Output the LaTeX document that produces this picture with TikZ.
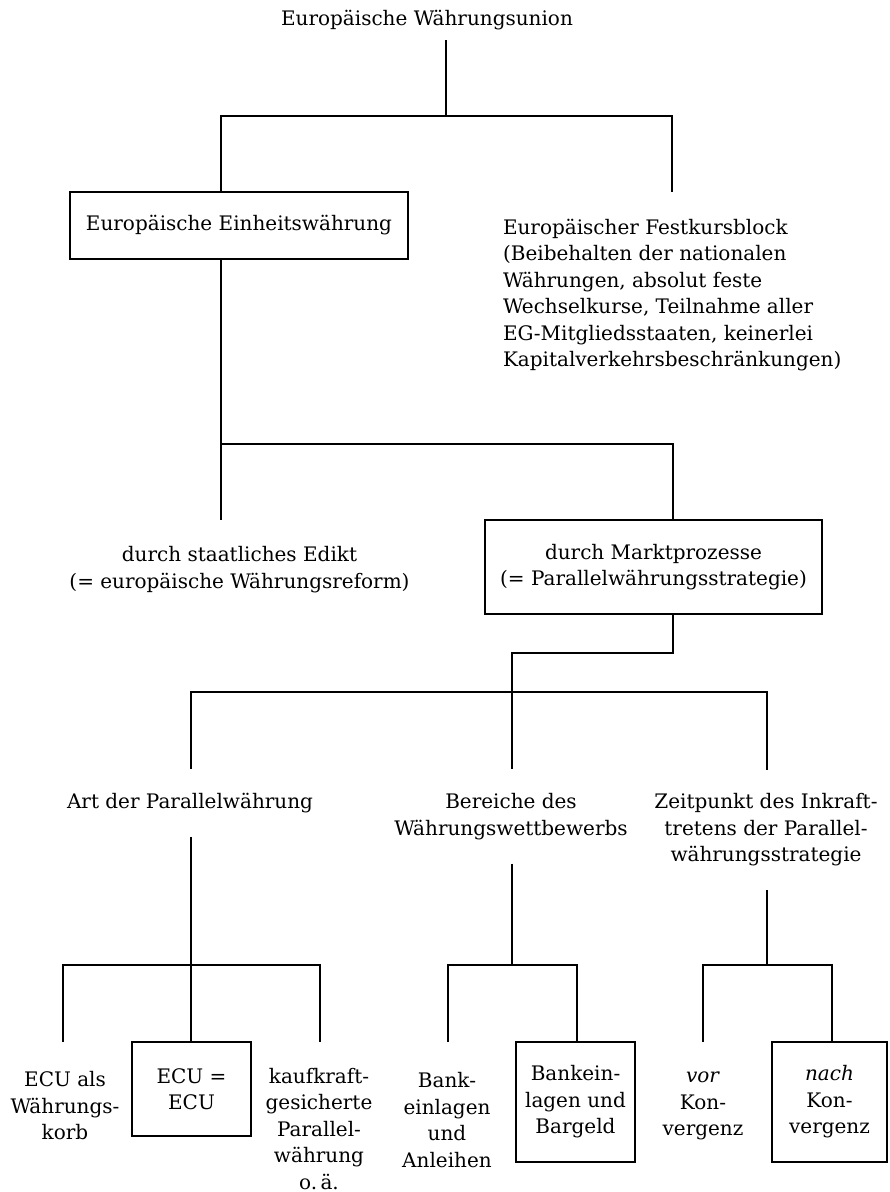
\documentclass[tikz,border=0pt]{standalone}
\usepackage{fontspec}
\setmainfont{DejaVu Serif}
\usepackage{tikz}
\usetikzlibrary{calc}
\tikzset{
	lbl/.style={font=\fontsize{10}{13.25}\selectfont, align=center, inner sep=0pt, outer sep=12pt},
	box/.style={draw, line width=1.2pt, font=\fontsize{10}{13.25}\selectfont, align=center, inner sep=0pt, outer sep=0pt},
	conn/.style={line width=1pt}
}

\begin{document}
\begin{tikzpicture}[x=0.5pt, y=-0.5pt]
			%%%%% START %%%%%
			\useasboundingbox (0, 0) rectangle (889, 1192);
			
			\node[lbl, outer sep=5pt] (title) at (427, 20) {Europäische Währungsunion};
			\node[box, minimum width=169pt, minimum height=33.5pt] (ein) at (239, 225.5) {Europäische Einheitswährung};
			\node[lbl, align=left, anchor=west, outer sep=0pt] (fest) at (503, 295) {Europäischer Festkursblock\\(Beibehalten der nationalen\\Währungen, absolut feste\\Wechselkurse, Teilnahme aller\\EG-Mitgliedsstaaten, keinerlei\\Kapitalverkehrsbeschränkungen)};
			
			\node[lbl] (edikt) at (239.5, 569.5) {durch staatliches Edikt\\(= europäische Währungsreform)};
			\node[box, minimum width=168.5pt, minimum height=47pt] (markt) at (653.5, 567) {durch Marktprozesse\\(= Parallelwährungsstrategie)};
			
			\node[lbl] (art) at (190, 803) {Art der Parallelwährung};
			\node[lbl] (bereiche) at (511, 816.5) {Bereiche des\\Währungswettbewerbs};
			\node[lbl] (zeit) at (766, 830) {Zeitpunkt des Inkraft-\\tretens der Parallel-\\währungsstrategie};
			
			\node[lbl] (korb) at (65, 1106) {ECU als\\Währungs-\\korb};
			\node[box, minimum width=59.5pt, minimum height=47pt] (ecu) at (191.5, 1089) {ECU =\\ECU};
			\node[lbl] (kauf) at (319, 1129) {kaufkraft-\\gesicherte\\Parallel-\\währung\\o.\,ä.};
			\node[lbl] (anl) at (447, 1120) {Bank-\\einlagen\\und\\Anleihen};
			\node[box, minimum width=59.5pt, minimum height=60pt] (barg) at (575.5, 1102) {Bankein-\\lagen und\\Bargeld};
			\node[lbl] (vor) at (703, 1106) {\textit{vor}\\Kon-\\vergenz};
			\node[box, minimum width=57.5pt, minimum height=60pt] (nach) at (829.5, 1102) {\textit{nach}\\Kon-\\vergenz};
			
			\coordinate (j1) at (446, 116);
			\coordinate (a1) at (221, 116);
			\coordinate (a2) at (672, 116);
			\coordinate (b1) at (221, 444);
			\coordinate (b2) at (673, 444);
			\coordinate (c1) at (673, 653);
			\coordinate (c2) at (512, 653);
			\coordinate (d0) at (512, 692);
			\coordinate (d1) at (191, 692);
			\coordinate (d3) at (767, 692);
			\coordinate (e1) at (191, 965);
			\coordinate (f1) at (63, 965);
			\coordinate (f3) at (320, 965);
			\coordinate (g0) at (512, 965);
			\coordinate (g1) at (448, 965);
			\coordinate (g2) at (577, 965);
			\coordinate (h0) at (767, 965);
			\coordinate (h1) at (703, 965);
			\coordinate (h2) at (832, 965);
			
			\draw[conn] (title.south -| j1) -- (j1);
			\draw[conn] (a1 |- ein.north) -- (a1) -- (a2) -- (a2 |- ein.north);
			
			\draw[conn] (ein.south -| b1) -- (b1 |- markt.north);
			\draw[conn] (b1) -- (b2) -- (b2 |- markt.north);
			
			\draw[conn] (markt.south -| c1) -- (c1) -- (c2) -- (d0);
			\draw[conn] (d1 |- art.north) -- (d1) -- (d3) -- (d3 |- zeit.north);
			\draw[conn] (d0) -- (d0 |- bereiche.north);
			
			\draw[conn] (art.south -| e1) -- (e1 |- ecu.north);
			\draw[conn] (f1 |- ecu.north) -- (f1) -- (f3) -- (f3 |- ecu.north);
			
			\draw[conn] (bereiche.south -| g0) -- (g0);
			\draw[conn] (g1 |- barg.north) -- (g1) -- (g2) -- (g2 |- barg.north);
			
			\draw[conn] (zeit.south -| h0) -- (h0);
			\draw[conn] (h1 |- nach.north) -- (h1) -- (h2) -- (h2 |- nach.north);
			
			%%%%% END %%%%%
\end{tikzpicture}
\end{document}
